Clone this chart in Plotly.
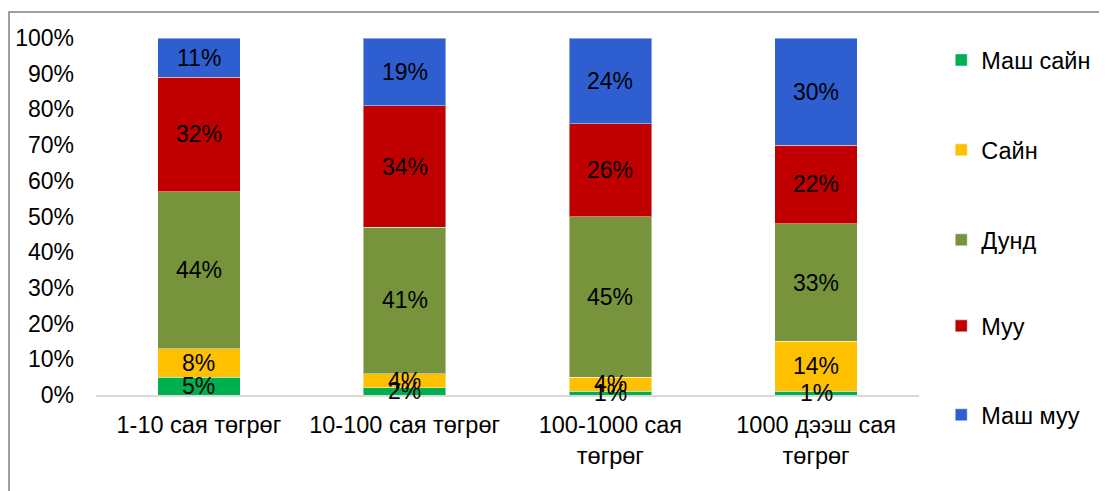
import plotly.graph_objects as go

categories = ["1-10 сая төгрөг", "10-100 сая төгрөг", "100-1000 сая<br>төгрөг", "1000 дээш сая<br>төгрөг"]
series_names = ["Маш сайн", "Сайн", "Дунд", "Муу", "Маш муу"]
mash_sain = [5, 2, 1, 1]
sain = [8, 4, 4, 14]
dund = [44, 41, 45, 33]
muu = [32, 34, 26, 22]
mash_muu = [11, 19, 24, 30]
colors = ["#00B050", "#FFC000", "#77933C", "#C00000", "#2E5ED0"]
y_ticks = list(range(0, 101, 10))

FONT = "Liberation Sans, Arial, sans-serif"
all_series = [mash_sain, sain, dund, muu, mash_muu]
legend_ids = ["legend", "legend2", "legend3", "legend4", "legend5"]
legend_ys = [0.938, 0.686, 0.434, 0.193, -0.056]

fig = go.Figure()
annotations = []
base = [0] * len(categories)
for i, (name, vals) in enumerate(zip(series_names, all_series)):
    fig.add_trace(go.Bar(
        x=categories, y=vals, name=name, legend=legend_ids[i],
        marker=dict(color=colors[i], line=dict(color="rgba(255,255,255,0.45)", width=1)),
        hoverinfo="skip",
    ))
    for j, v in enumerate(vals):
        annotations.append(dict(x=categories[j], y=base[j] + v / 2, text=f"{v}%",
                                showarrow=False, xref="x", yref="y",
                                font=dict(family=FONT, size=23, color="black")))
        base[j] += v

layout_legends = {}
for i, lid in enumerate(legend_ids):
    layout_legends[lid] = dict(x=1.027, xanchor="left", y=legend_ys[i], yanchor="middle",
                               font=dict(family=FONT, size=23.5, color="black"),
                               itemwidth=30, bgcolor="rgba(0,0,0,0)")

fig.update_layout(
    barmode="stack", bargap=0.6,
    width=1099, height=483,
    margin=dict(l=88, r=188, t=30, b=96, autoexpand=False),
    paper_bgcolor="white", plot_bgcolor="white",
    font=dict(family=FONT, size=23, color="black"),
    showlegend=True,
    annotations=annotations,
    xaxis=dict(showline=True, linecolor="#D9D9D9", linewidth=1.5, ticks="",
               tickfont=dict(family=FONT, size=23.5, color="black"), showgrid=False,
               ticklabelstandoff=8, automargin=False),
    yaxis=dict(range=[0, 100], tickvals=y_ticks, ticktext=[f"{v}%" for v in y_ticks],
               showgrid=False, showline=False, zeroline=False, ticks="",
               tickfont=dict(family=FONT, size=23, color="black"),
               ticklabelstandoff=21, automargin=False),
    shapes=[dict(type="rect", xref="paper", yref="paper",
                 x0=-0.1057, x1=1.5, y0=-0.6, y1=1.0728,
                 line=dict(color="#808080", width=1.5), layer="below")],
    **layout_legends,
)

fig.write_html("out.html")
